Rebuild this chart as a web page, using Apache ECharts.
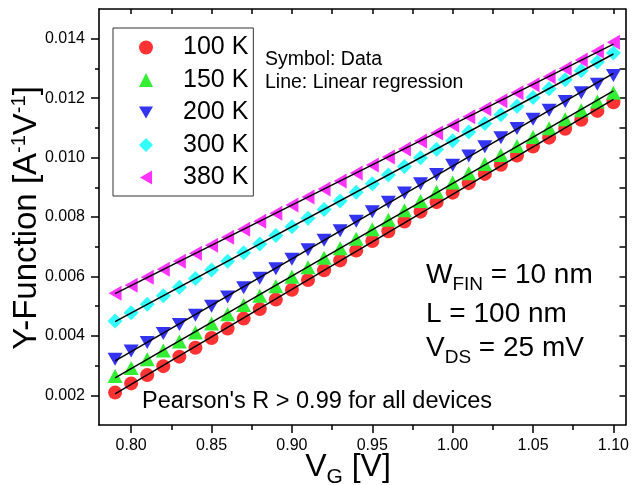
<!DOCTYPE html>
<html>
<head>
<meta charset="utf-8">
<script src="https://cdn.jsdelivr.net/npm/echarts@6/dist/echarts.min.js"></script>
<style>html,body{margin:0;padding:0;background:#fff}#c{width:632px;height:485px}</style>
</head>
<body>
<div id="c"></div>
<script>
// ---- data ----
const vg = [0.79,0.80,0.81,0.82,0.83,0.84,0.85,0.86,0.87,0.88,0.89,0.90,0.91,0.92,0.93,0.94,
            0.95,0.96,0.97,0.98,0.99,1.00,1.01,1.02,1.03,1.04,1.05,1.06,1.07,1.08,1.09,1.10];
const y100K = [0.00209,0.00240,0.00268,0.00298,0.00330,0.00360,0.00393,0.00425,0.00458,0.00490,0.00522,0.00555,0.00588,0.00621,0.00654,0.00687,
               0.00719,0.00752,0.00785,0.00818,0.00850,0.00882,0.00914,0.00945,0.00976,0.01007,0.01037,0.01067,0.01097,0.01127,0.01157,0.01186];
const y150K = [0.00265,0.00292,0.00321,0.00351,0.00381,0.00411,0.00442,0.00473,0.00504,0.00535,0.00567,0.00599,0.00631,0.00663,0.00695,0.00727,
               0.00759,0.00791,0.00823,0.00854,0.00885,0.00916,0.00947,0.00978,0.01009,0.01039,0.01069,0.01099,0.01129,0.01159,0.01189,0.01218];
const y200K = [0.00321,0.00349,0.00378,0.00408,0.00438,0.00469,0.00500,0.00531,0.00562,0.00594,0.00626,0.00658,0.00690,0.00722,0.00754,0.00786,
               0.00818,0.00850,0.00881,0.00912,0.00943,0.00974,0.01005,0.01036,0.01067,0.01098,0.01129,0.01159,0.01189,0.01218,0.01247,0.01276];
const y300K = [0.00450,0.00478,0.00506,0.00535,0.00564,0.00593,0.00622,0.00651,0.00680,0.00709,0.00738,0.00767,0.00796,0.00825,0.00854,0.00883,
               0.00912,0.00941,0.00970,0.00999,0.01028,0.01057,0.01086,0.01115,0.01144,0.01173,0.01202,0.01232,0.01262,0.01292,0.01322,0.01352];
const y380K = [0.00543,0.00570,0.00597,0.00624,0.00651,0.00678,0.00705,0.00732,0.00759,0.00786,0.00813,0.00840,0.00867,0.00894,0.00921,0.00948,
               0.00975,0.01002,0.01029,0.01056,0.01083,0.01110,0.01137,0.01164,0.01191,0.01218,0.01245,0.01272,0.01300,0.01328,0.01358,0.01388];
const seriesNames = ['100 K','150 K','200 K','300 K','380 K'];
const xMajor = [0.80,0.85,0.90,0.95,1.00,1.05,1.10];
const xMinor = [0.825,0.875,0.925,0.975,1.025,1.075];
const yMajor = [0.002,0.004,0.006,0.008,0.010,0.012,0.014];
const yMinor = [0.003,0.005,0.007,0.009,0.011,0.013];

// ---- styling ----
const FONT = 'Liberation Sans, Arial, sans-serif';
const colors = ['#FF3333','#33EE33','#3333F0','#33FFFF','#FF33FF'];
const symbols = ['circle','triangle','path://M0,0 L2,0 L1,1.732 Z','diamond','path://M0,1 L1.732,0 L1.732,2 Z'];
const sizes = [14,[15,14],[15,13],[15,15],[13,15]];
const allY = [y100K,y150K,y200K,y300K,y380K];

function linfit(xs, ys){
  const n = xs.length;
  let mx=0,my=0; for(let i=0;i<n;i++){mx+=xs[i];my+=ys[i];} mx/=n; my/=n;
  let sxx=0,sxy=0; for(let i=0;i<n;i++){sxx+=(xs[i]-mx)**2; sxy+=(xs[i]-mx)*(ys[i]-my);}
  const b=sxy/sxx, a=my-b*mx;
  const x0=xs[0], x1=xs[n-1];
  return [[x0,a+b*x0],[x1,a+b*x1]];
}

const series = [];
allY.forEach((ys,k)=>{
  series.push({
    name: seriesNames[k], type:'scatter', xAxisIndex:0, yAxisIndex:0,
    symbol: symbols[k], symbolSize: sizes[k],
    itemStyle:{color:colors[k], opacity:1},
    data: vg.map((x,i)=>[x,ys[i]]), z:2, animation:false
  });
});
allY.forEach((ys,k)=>{
  series.push({
    type:'line', xAxisIndex:0, yAxisIndex:0, symbol:'none',
    lineStyle:{color:'#000', width:1.5}, data: linfit(vg, ys), z:4, animation:false, silent:true
  });
});

const axLine = {show:true, onZero:false, lineStyle:{color:'#000', width:1.6}};
const xMin = 0.78, xMax = 1.1075, yMin = 0.001, yMax = 0.015;

const option = {
  animation:false,
  grid:{left:99, top:9, right:4, bottom:60, containLabel:false},
  xAxis:[
    {type:'value', position:'bottom', min:xMin, max:xMax, axisLine:axLine,
     axisTick:{show:true, inside:false, length:8, customValues:xMajor, lineStyle:{color:'#000',width:1.5}},
     axisLabel:{show:true, customValues:xMajor, margin:13, fontSize:16, color:'#000', fontFamily:FONT, formatter:v=>v.toFixed(2)},
     splitLine:{show:false}},
    {type:'value', position:'bottom', min:xMin, max:xMax, axisLine:{show:false},
     axisTick:{show:true, inside:false, length:5, customValues:xMinor, lineStyle:{color:'#000',width:1.5}},
     axisLabel:{show:false}, splitLine:{show:false}},
    {type:'value', position:'top', min:xMin, max:xMax, axisLine:axLine,
     axisTick:{show:true, inside:true, length:5, customValues:xMajor.concat(xMinor), lineStyle:{color:'#000',width:1.5}},
     axisLabel:{show:false}, splitLine:{show:false}}
  ],
  yAxis:[
    {type:'value', position:'left', min:yMin, max:yMax, axisLine:axLine,
     axisTick:{show:true, inside:false, length:8, customValues:yMajor, lineStyle:{color:'#000',width:1.5}},
     axisLabel:{show:true, customValues:yMajor, margin:14, fontSize:16, color:'#000', fontFamily:FONT, formatter:v=>v.toFixed(3)},
     splitLine:{show:false}},
    {type:'value', position:'left', min:yMin, max:yMax, axisLine:{show:false},
     axisTick:{show:true, inside:false, length:4, customValues:yMinor, lineStyle:{color:'#000',width:1.5}},
     axisLabel:{show:false}, splitLine:{show:false}},
    {type:'value', position:'right', min:yMin, max:yMax, axisLine:axLine,
     axisTick:{show:true, inside:true, length:6, customValues:yMajor.concat(yMinor), lineStyle:{color:'#000',width:1.5}},
     axisLabel:{show:false}, splitLine:{show:false}}
  ],
  legend:{
    show:true, orient:'vertical', left:113, top:28,
    data: seriesNames.map((n,k)=>({name:n, icon:symbols[k]})),
    itemWidth:14, itemHeight:14, itemGap:7.5,
    padding:[7,5,6,26],
    borderColor:'#333', borderWidth:1, backgroundColor:'#fff',
    formatter: n => '{s|}{t|' + n + '}',
    textStyle:{color:'#000', fontFamily:FONT, fontSize:25, lineHeight:25,
      rich:{s:{width:25}, t:{fontSize:25, fontFamily:FONT, color:'#000', lineHeight:25}}},
    selectedMode:false
  },
  graphic:[
    {type:'text', left:265, top:50, style:{text:'Symbol: Data', font:'19.5px '+FONT, fill:'#000'}},
    {type:'text', left:265, top:73, style:{text:'Line: Linear regression', font:'19.5px '+FONT, fill:'#000'}},
    {type:'text', left:142, top:390, style:{text:"Pearson's R > 0.99 for all devices", font:'23.5px '+FONT, fill:'#000'}},
    {type:'text', left:426, top:257, style:{text:'{a|W}{b|FIN}{a| = 10 nm}', rich:{a:{fontSize:28, fontFamily:FONT, fill:'#000', lineHeight:30}, b:{fontSize:19, fontFamily:FONT, fill:'#000', padding:[18,0,0,0], lineHeight:19}}}},
    {type:'text', left:426, top:300, style:{text:'L = 100 nm', font:'28px '+FONT, fill:'#000'}},
    {type:'text', left:426, top:330, style:{text:'{a|V}{b|DS}{a| = 25 mV}', rich:{a:{fontSize:28, fontFamily:FONT, fill:'#000', lineHeight:30}, b:{fontSize:19, fontFamily:FONT, fill:'#000', padding:[18,0,0,0], lineHeight:19}}}},
    {type:'text', x:27, y:218, rotation:Math.PI/2,
     style:{text:'{a|Y-Function [A}{s|-1}{a|V}{s|-1}{a|]}', align:'center', verticalAlign:'middle',
       rich:{a:{fontSize:33, fontFamily:FONT, fill:'#000', lineHeight:35}, s:{fontSize:20, fontFamily:FONT, fill:'#000', padding:[0,0,16,0], lineHeight:20}}}},
    {type:'text', x:348, y:467, 
     style:{text:'{a|V}{b|G}{a| [V]}', align:'center', verticalAlign:'middle',
       rich:{a:{fontSize:32, fontFamily:FONT, fill:'#000', lineHeight:34}, b:{fontSize:21, fontFamily:FONT, fill:'#000', padding:[20,0,0,0], lineHeight:21}}}}
  ],
  series: series
};
const chart = echarts.init(document.getElementById('c'), null, {renderer:'canvas'});
chart.setOption(option);
</script>
</body>
</html>
